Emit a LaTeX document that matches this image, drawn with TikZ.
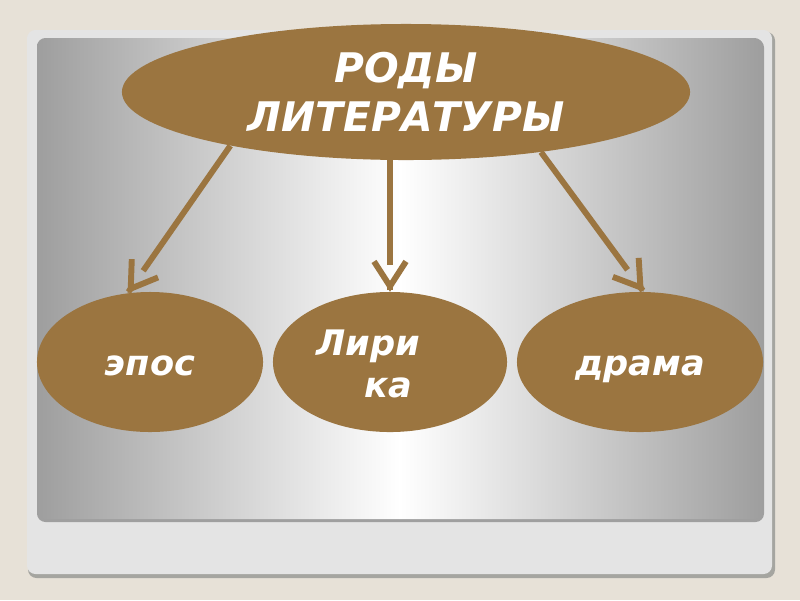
\documentclass[tikz,border=0pt]{standalone}
\usepackage{fontspec}
\setmainfont{DejaVu Sans}
\usetikzlibrary{arrows.meta,shapes.geometric,calc}
\definecolor{rbrown}{RGB}{155,117,64}
\definecolor{rbeige}{RGB}{231,225,215}
\definecolor{rframe}{RGB}{228,228,228}
\definecolor{rframeline}{RGB}{165,165,160}
\definecolor{rpanel}{RGB}{158,158,158}
\tikzset{
  oval/.style={ellipse,fill=rbrown,inner sep=0pt,text=white},
  bigtext/.style={font=\fontsize{29}{35}\selectfont\bfseries\itshape},
  smalltext/.style={text=white,font=\fontsize{25}{30}\selectfont\bfseries\itshape},
  genarrow/.style={rbrown,line width=4.2pt,-{Straight Barb[length=0.62cm,width=0.8cm]}}
}
% shaft stops short of the open tip
\newcommand{\gaparrow}[2]{%
  \draw[genarrow] (#1) -- ($(#2)!0.68cm!(#1)$) ($(#2)!1pt!(#1)$) -- (#2);}

\begin{document}
\begin{tikzpicture}[x=0.025cm,y=-0.025cm]
  % Background
  \fill[rbeige] (0,0) rectangle (800,600);
  \useasboundingbox (0,0) rectangle (800,600);
  % Frame
  \fill[rframeline,rounded corners=6pt] (28,32) rectangle (775,578);
  \fill[rframe,rounded corners=6pt] (27,30) rectangle (772,574);
  % Panel
  \fill[gray!75,rounded corners=6pt] (37,39) rectangle (764,522);
  \shade[left color=rpanel,right color=rpanel,middle color=white,rounded corners=6pt] (37,38) rectangle (763,519);
  % Top oval
  \node[oval,bigtext,align=center,minimum width=14.2cm,minimum height=3.4cm] (rody) at (406,92) {РОДЫ\\ЛИТЕРАТУРЫ};
  % Lower ovals
  \node[oval,smalltext,text height=0.7cm,text depth=0.05cm,minimum width=5.65cm,minimum height=3.5cm] (epos) at (150,362) {эпос};
  \node[oval,minimum width=5.85cm,minimum height=3.5cm] (lirika) at (390,362) {};
  \node[smalltext,align=left,inner sep=0pt] (lirikatext) at (368,364) {Лири\\\hspace*{1.2cm}ка};
  \node[oval,smalltext,text height=0.7cm,text depth=0.05cm,minimum width=6.15cm,minimum height=3.5cm] (drama) at (640,362) {драма};
  % Arrows
  \gaparrow{rody.197}{epos.108}
  \gaparrow{rody.south -| lirika.north}{lirika.north}
  \gaparrow{rody.336}{drama.87}
\end{tikzpicture}
\end{document}
